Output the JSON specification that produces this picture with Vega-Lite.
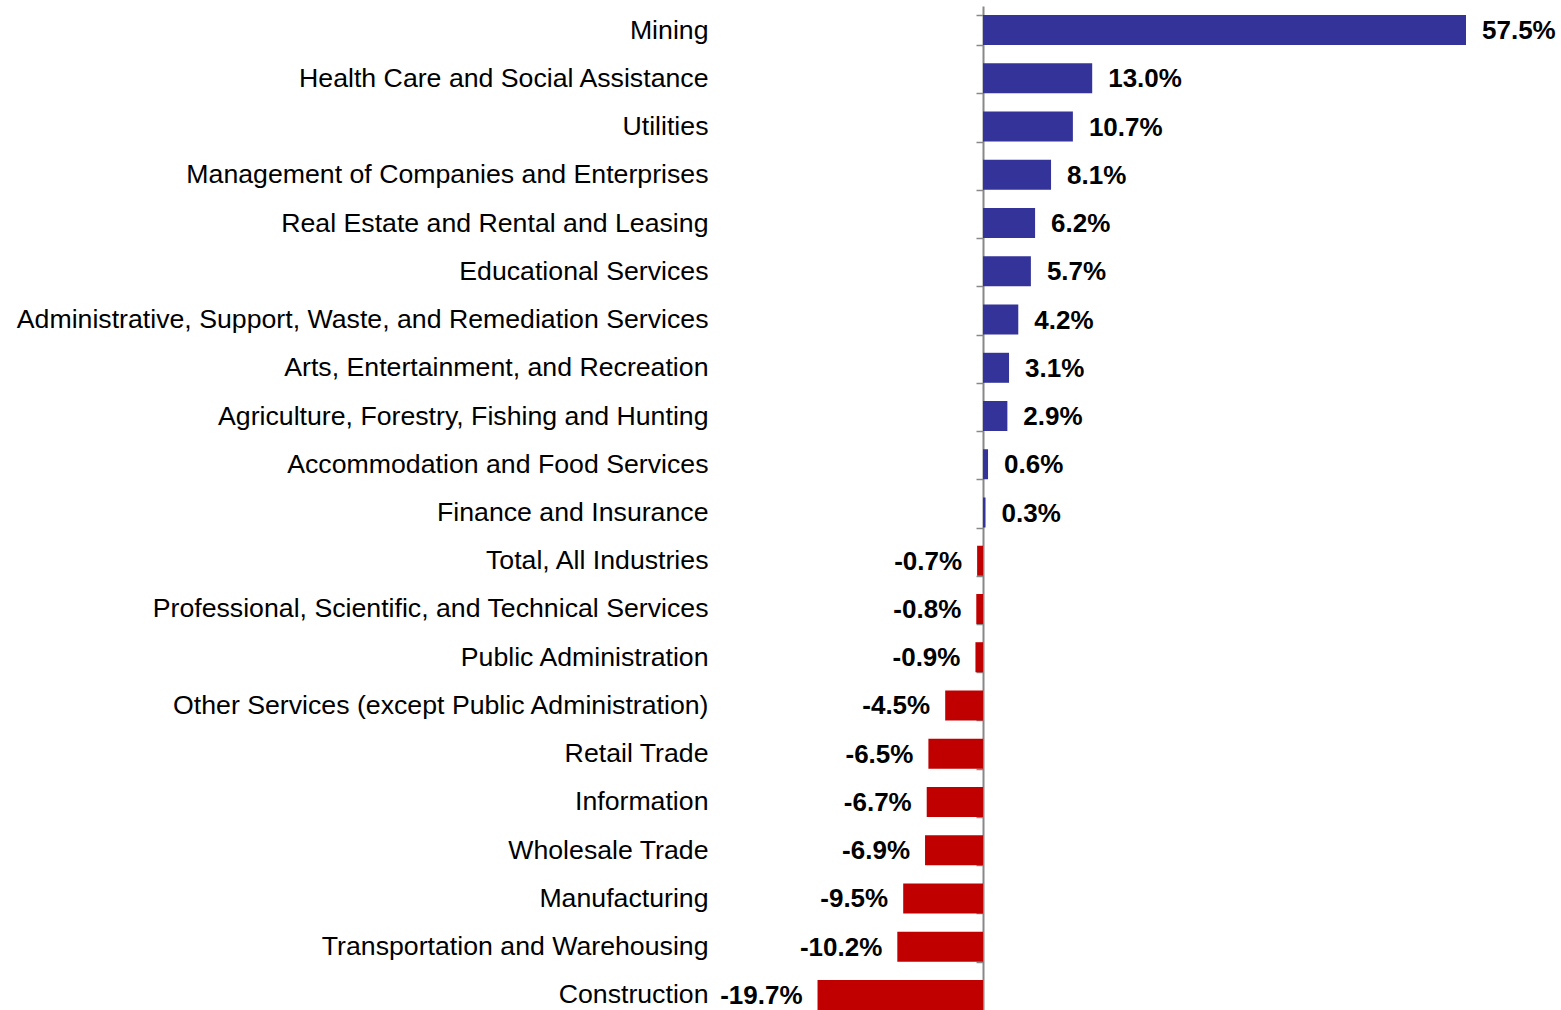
{
  "$schema": "https://vega.github.io/schema/vega-lite/v6.json",
  "autosize": "none",
  "width": 756,
  "height": 1013,
  "padding": {"left": 731, "top": 6, "right": 74, "bottom": 0},
  "background": "white",
  "config": {
    "view": {"stroke": null},
    "font": "Liberation Sans",
    "locale": {"number": {"decimal": ".", "thousands": ",", "grouping": [3], "currency": ["$", ""], "minus": "-"}}
  },
  "data": {"values": [
    {"industry": "Mining", "change": 0.575},
    {"industry": "Health Care and Social Assistance", "change": 0.130},
    {"industry": "Utilities", "change": 0.107},
    {"industry": "Management of Companies and Enterprises", "change": 0.081},
    {"industry": "Real Estate and Rental and Leasing", "change": 0.062},
    {"industry": "Educational Services", "change": 0.057},
    {"industry": "Administrative, Support, Waste, and Remediation Services", "change": 0.042},
    {"industry": "Arts, Entertainment, and Recreation", "change": 0.031},
    {"industry": "Agriculture, Forestry, Fishing and Hunting", "change": 0.029},
    {"industry": "Accommodation and Food Services", "change": 0.006},
    {"industry": "Finance and Insurance", "change": 0.003},
    {"industry": "Total, All Industries", "change": -0.007},
    {"industry": "Professional, Scientific, and Technical Services", "change": -0.008},
    {"industry": "Public Administration", "change": -0.009},
    {"industry": "Other Services (except Public Administration)", "change": -0.045},
    {"industry": "Retail Trade", "change": -0.065},
    {"industry": "Information", "change": -0.067},
    {"industry": "Wholesale Trade", "change": -0.069},
    {"industry": "Manufacturing", "change": -0.095},
    {"industry": "Transportation and Warehousing", "change": -0.102},
    {"industry": "Construction", "change": -0.197}
  ]},
  "encoding": {
    "y": {
      "field": "industry", "type": "nominal", "sort": null,
      "scale": {"paddingInner": 0.378, "paddingOuter": 0.189},
      "axis": {
        "title": null, "orient": "left", "offset": -252,
        "domainColor": "#888888", "domainWidth": 2,
        "ticks": true, "tickBand": "extent", "tickSize": 7, "tickColor": "#888888", "tickWidth": 1.5,
        "labelPadding": 268, "labelLimit": 0, "labelFontSize": 26.7, "labelColor": "#000000",
        "labelFont": "Liberation Sans"
      }
    },
    "x": {
      "field": "change", "type": "quantitative",
      "scale": {"domain": [-0.3, 0.6], "nice": false, "zero": true},
      "axis": null
    }
  },
  "layer": [
    {
      "mark": {"type": "bar"},
      "encoding": {
        "color": {
          "condition": {"test": "datum.change >= 0", "value": "#333399"},
          "value": "#C00000"
        }
      }
    },
    {
      "transform": [{"filter": "datum.change >= 0"}],
      "mark": {"type": "text", "align": "left", "baseline": "middle", "dx": 16, "dy": 1, "fontSize": 26, "fontWeight": "bold", "font": "Liberation Sans", "color": "#000000"},
      "encoding": {"text": {"field": "change", "type": "quantitative", "format": ".1%"}}
    },
    {
      "transform": [{"filter": "datum.change < 0"}],
      "mark": {"type": "text", "align": "right", "baseline": "middle", "dx": -15, "dy": 1, "fontSize": 26, "fontWeight": "bold", "font": "Liberation Sans", "color": "#000000"},
      "encoding": {"text": {"field": "change", "type": "quantitative", "format": ".1%"}}
    }
  ]
}
